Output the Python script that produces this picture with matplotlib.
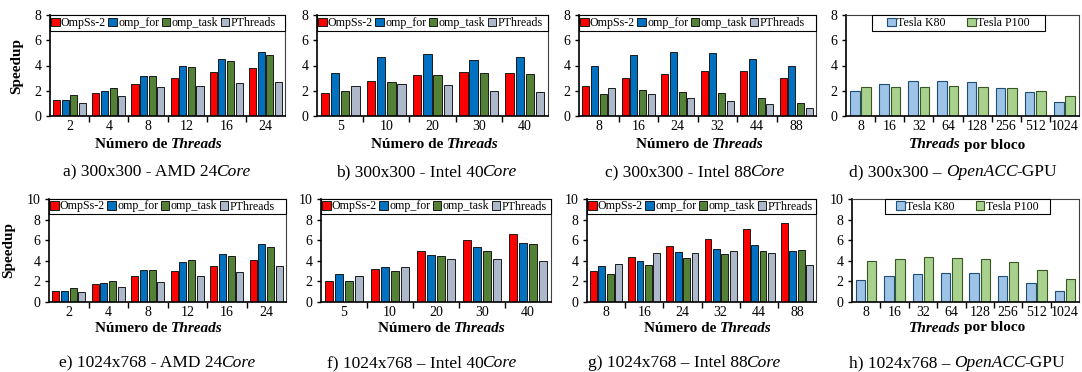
import numpy as np
import matplotlib.pyplot as plt
from matplotlib.patches import Patch, Rectangle

plt.rcParams['font.family'] = ['Liberation Serif', 'DejaVu Serif']

W, H = 1082, 372

series = ['OmpSs-2', 'omp_for', 'omp_task', 'PThreads']
gpus = ['Tesla K80', 'Tesla P100']

threads_amd = ['2', '4', '8', '12', '16', '24']
threads_i40 = ['5', '10', '20', '30', '40']
threads_i88 = ['8', '16', '24', '32', '44', '88']
blocks = ['8', '16', '32', '64', '128', '256', '512', '1024']

# ---- 300x300 ----
amd300_ompss = [1.25, 1.85, 2.57, 3.0, 3.47, 3.8]
amd300_for = [1.25, 1.95, 3.2, 3.97, 4.48, 5.1]
amd300_task = [1.7, 2.2, 3.2, 3.87, 4.32, 4.84]
amd300_pth = [1.0, 1.6, 2.3, 2.38, 2.62, 2.7]

i40_300_ompss = [1.8, 2.75, 3.26, 3.52, 3.42]
i40_300_for = [3.4, 4.66, 4.9, 4.42, 4.66]
i40_300_task = [1.95, 2.68, 3.26, 3.42, 3.36]
i40_300_pth = [2.35, 2.54, 2.46, 1.96, 1.88]

i88_300_ompss = [2.36, 3.0, 3.36, 3.55, 3.55, 3.02]
i88_300_for = [3.95, 4.82, 5.06, 5.0, 4.53, 4.0]
i88_300_task = [1.77, 2.09, 1.9, 1.83, 1.43, 1.06]
i88_300_pth = [2.22, 1.72, 1.46, 1.22, 0.98, 0.61]

gpu300_k80 = [2.01, 2.5, 2.74, 2.79, 2.68, 2.23, 1.9, 1.1]
gpu300_p100 = [2.28, 2.33, 2.31, 2.36, 2.33, 2.2, 1.99, 1.61]

# ---- 1024x768 ----
amd1024_ompss = [1.07, 1.76, 2.5, 3.0, 3.45, 4.07]
amd1024_for = [1.07, 1.89, 3.13, 3.88, 4.69, 5.63]
amd1024_task = [1.4, 2.08, 3.13, 4.04, 4.5, 5.34]
amd1024_pth = [1.0, 1.5, 1.99, 2.48, 2.93, 3.5]

i40_1024_ompss = [2.0, 3.19, 4.98, 5.99, 6.64]
i40_1024_for = [2.74, 3.42, 4.53, 5.37, 5.7]
i40_1024_task = [2.0, 3.0, 4.43, 4.92, 5.6]
i40_1024_pth = [2.57, 3.39, 4.17, 4.14, 4.0]

i88_1024_ompss = [3.03, 4.36, 5.44, 6.09, 7.07, 7.65]
i88_1024_for = [3.45, 4.0, 4.82, 5.15, 5.5, 4.98]
i88_1024_task = [2.7, 3.55, 4.23, 4.62, 4.95, 5.08]
i88_1024_pth = [3.71, 4.79, 4.79, 4.92, 4.72, 3.58]

gpu1024_k80 = [2.18, 2.57, 2.74, 2.8, 2.83, 2.54, 1.89, 1.07]
gpu1024_p100 = [3.94, 4.17, 4.33, 4.27, 4.14, 3.88, 3.13, 2.28]

cpu_colors = ['#FF0000', '#0070C0', '#538135', '#ADB9CA']
gpu_colors = ['#9DC3E6', '#A9D18E']
gpu_edges = ['#1F4E79', '#375623']

TICK = 10
LEG = 8.6
LAB = 11
CAP = 12.5


def frame(ax, n, ymax):
    ax.set_xlim(-0.5, n - 0.5)
    ax.set_ylim(0, ymax)
    ax.set_yticks(np.arange(0, ymax + 1, 2))
    ax.set_xticks(np.arange(n))
    ax.set_xticks(np.arange(0.5, n - 0.5), minor=True)
    ax.tick_params(axis='x', which='major', length=0, labelsize=TICK, pad=3)
    ax.tick_params(axis='x', which='minor', length=4, width=1.0, direction='out')
    ax.tick_params(axis='y', length=3, width=1.0, direction='out', labelsize=TICK, pad=3)
    for s in ['top', 'right']:
        ax.spines[s].set_linewidth(0.8)
        ax.spines[s].set_color('#404040')
    for s in ['left', 'bottom']:
        ax.spines[s].set_linewidth(1.2)
        ax.spines[s].set_color('black')


def legend_box(ax, handles, labels, lx0, lx1, lh, colsp, loc):
    # box drawn by hand so its size matches the original, entries placed inside
    ax.add_patch(Rectangle((lx0, 1 - lh), lx1 - lx0, lh, transform=ax.transAxes,
                           facecolor='white', edgecolor='black', linewidth=0.8,
                           zorder=4, clip_on=False))
    if loc == 'left':
        kw = dict(loc='center left', bbox_to_anchor=(lx0 + 0.005, 1 - lh / 2))
    else:
        kw = dict(loc='center', bbox_to_anchor=((lx0 + lx1) / 2, 1 - lh / 2))
    leg = ax.legend(handles, labels, ncol=len(labels), borderaxespad=0, fontsize=LEG,
                    frameon=False, handlelength=0.7, handleheight=0.7,
                    handletextpad=0.12, columnspacing=colsp, borderpad=0.0, **kw)
    leg.set_zorder(5)


def cpu_panel(ax, cats, vals, ymax, lh):
    x = np.arange(len(cats))
    offs = [-0.33, -0.11, 0.11, 0.33]
    for v, c, o, name in zip(vals, cpu_colors, offs, series):
        ax.bar(x + o, v, 0.18, color=c, edgecolor='#1a1a1a', linewidth=0.7, label=name)
    frame(ax, len(cats), ymax)
    ax.set_xticklabels(cats)
    handles = [Patch(facecolor=c, edgecolor='#1a1a1a', linewidth=0.7) for c in cpu_colors]
    legend_box(ax, handles, series, 0, 1, lh, 0.2, 'left')


def gpu_panel(ax, cats, vals, ymax, lx0, lx1, lh):
    x = np.arange(len(cats))
    offs = [-0.195, 0.195]
    for v, c, e, o, name in zip(vals, gpu_colors, gpu_edges, offs, gpus):
        ax.bar(x + o, v, 0.33, color=c, edgecolor=e, linewidth=0.8, label=name)
    frame(ax, len(cats), ymax)
    ax.set_xticklabels(cats)
    handles = [Patch(facecolor=c, edgecolor=e, linewidth=0.8) for c, e in zip(gpu_colors, gpu_edges)]
    legend_box(ax, handles, gpus, lx0, lx1, lh, 1.8, 'center')


def add_axes(fig, x0, x1, ytop, ybot):
    return fig.add_axes([x0 / W, 1 - ybot / H, (x1 - x0) / W, (ybot - ytop) / H])


def rich_text(fig, xc, yc, parts, size, weight='normal'):
    # parts: list of (text, style); pieces are laid side by side, centred on xc
    r = fig.canvas.get_renderer()
    probe1 = fig.text(0, 0, 'a a', fontsize=size, fontweight=weight)
    probe2 = fig.text(0, 0, 'aa', fontsize=size, fontweight=weight)
    sp = probe1.get_window_extent(r).width - probe2.get_window_extent(r).width
    probe1.remove()
    probe2.remove()
    arts, widths = [], []
    prev_text = False
    for s, style in parts:
        if s == ' ':
            arts.append(None)
            widths.append(sp)
            prev_text = False
            continue
        t = fig.text(0, 1 - yc / H, s, fontsize=size, fontweight=weight,
                     fontstyle=style, ha='left', va='center')
        if prev_text:
            widths[-1] -= 1.5
        arts.append(t)
        widths.append(t.get_window_extent(r).width)
        prev_text = True
    x = xc - sum(widths) / 2
    for t, w in zip(arts, widths):
        if t is not None:
            t.set_x(x / W)
        x += w


fig = plt.figure(figsize=(W / 100, H / 100), dpi=100)

ax_a = add_axes(fig, 50, 285, 15, 116)
ax_b = add_axes(fig, 317, 548, 15, 116)
ax_c = add_axes(fig, 579, 816, 15, 116)
ax_d = add_axes(fig, 846, 1079, 15, 116)
ax_e = add_axes(fig, 49, 286, 199, 302)
ax_f = add_axes(fig, 321, 551, 199, 302)
ax_g = add_axes(fig, 587, 816, 199, 302)
ax_h = add_axes(fig, 852, 1079, 199, 302)

cpu_panel(ax_a, threads_amd, [amd300_ompss, amd300_for, amd300_task, amd300_pth], 8, 16 / 101)
cpu_panel(ax_b, threads_i40, [i40_300_ompss, i40_300_for, i40_300_task, i40_300_pth], 8, 16 / 101)
cpu_panel(ax_c, threads_i88, [i88_300_ompss, i88_300_for, i88_300_task, i88_300_pth], 8, 16 / 101)
gpu_panel(ax_d, blocks, [gpu300_k80, gpu300_p100], 8, 0.112, 0.854, 16 / 101)
cpu_panel(ax_e, threads_amd, [amd1024_ompss, amd1024_for, amd1024_task, amd1024_pth], 10, 15 / 103)
cpu_panel(ax_f, threads_i40, [i40_1024_ompss, i40_1024_for, i40_1024_task, i40_1024_pth], 10, 15 / 103)
cpu_panel(ax_g, threads_i88, [i88_1024_ompss, i88_1024_for, i88_1024_task, i88_1024_pth], 10, 15 / 103)
gpu_panel(ax_h, blocks, [gpu1024_k80, gpu1024_p100], 10, 0.145, 0.872, 15 / 103)

for ax in (ax_a, ax_e):
    ax.set_ylabel('Speedup', fontsize=LAB, fontweight='bold', labelpad=8)

fig.canvas.draw()

xl_cpu = [('Número de', 'normal'), (' ', None), ('Threads', 'italic')]
xl_gpu = [('Threads', 'italic'), (' ', None), ('por bloco', 'normal')]

# x labels
for xc, yc, parts in [(159, 145, xl_cpu), (435, 145, xl_cpu), (700, 145, xl_cpu),
                      (967, 145, xl_gpu), (159, 328, xl_cpu), (442, 328, xl_cpu),
                      (708, 328, xl_cpu), (967, 328, xl_gpu)]:
    rich_text(fig, xc, yc, parts, LAB, 'bold')

# captions
captions = [
    (157, 172, [('a) 300x300 - AMD 24', 'normal'), ('Core', 'italic')]),
    (426, 172, [('b) 300x300 - Intel 40', 'normal'), ('Core', 'italic')]),
    (695, 172, [('c) 300x300 - Intel 88', 'normal'), ('Core', 'italic')]),
    (953, 172, [('d) 300x300 \u2013', 'normal'), (' ', None), ('OpenACC', 'italic'), ('-GPU', 'normal')]),
    (157, 363, [('e) 1024x768 - AMD 24', 'normal'), ('Core', 'italic')]),
    (422, 363, [('f) 1024x768 \u2013 Intel 40', 'normal'), ('Core', 'italic')]),
    (684, 363, [('g) 1024x768 \u2013 Intel 88', 'normal'), ('Core', 'italic')]),
    (957, 363, [('h) 1024x768 \u2013', 'normal'), (' ', None), ('OpenACC', 'italic'), ('-GPU', 'normal')]),
]
for xc, yc, parts in captions:
    rich_text(fig, xc, yc, parts, CAP)

fig.savefig('out.png', dpi=100)
